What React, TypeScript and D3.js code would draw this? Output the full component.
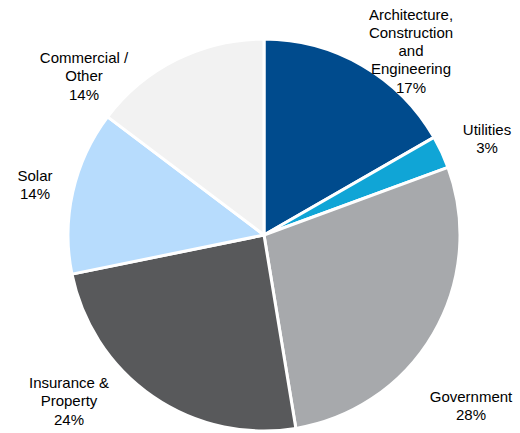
import React from "react";
import * as d3 from "d3";

const categories = ["Architecture, Construction and Engineering", "Utilities", "Government", "Insurance & Property", "Solar", "Commercial / Other"];
const values = [16.7, 2.7, 28.0, 24.4, 13.5, 14.7];
const colors = ["#004b8d", "#10a5d6", "#a7a9ac", "#58595b", "#b7dcfd", "#f2f2f2"];
const labelLines = [
  ["Architecture,", "Construction", "and", "Engineering", "17%"],
  ["Utilities", "3%"],
  ["Government", "28%"],
  ["Insurance &", "Property", "24%"],
  ["Solar", "14%"],
  ["Commercial /", "Other", "14%"],
];
const labelPos: [number, number][] = [
  [411, 19.5],
  [487, 135],
  [471, 402],
  [69, 388],
  [35, 181],
  [84, 63],
];

export default function App() {
  const W = 520, H = 433;
  const cx = 264, cy = 235, r = 196;
  const pie = d3.pie<number>().sort(null).value((d) => d)(values);
  const arc = d3.arc<d3.PieArcDatum<number>>().innerRadius(0).outerRadius(r);
  return (
    <svg width={W} height={H} style={{ position: "absolute", left: 0, top: 0 }}>
      <g transform={`translate(${cx},${cy})`}>
        {pie.map((p, i) => (
          <path key={categories[i]} d={arc(p) || ""} fill={colors[i]} stroke="#fff" strokeWidth={3} strokeLinejoin="round" />
        ))}
      </g>
      {labelLines.map((lines, i) => (
        <text key={i} fontFamily="Liberation Sans, Arial, sans-serif" fontSize={15} fill="#000" textAnchor="middle">
          {lines.map((l, j) => (
            <tspan key={j} x={labelPos[i][0]} y={labelPos[i][1] + j * 18.3}>{l}</tspan>
          ))}
        </text>
      ))}
    </svg>
  );
}
